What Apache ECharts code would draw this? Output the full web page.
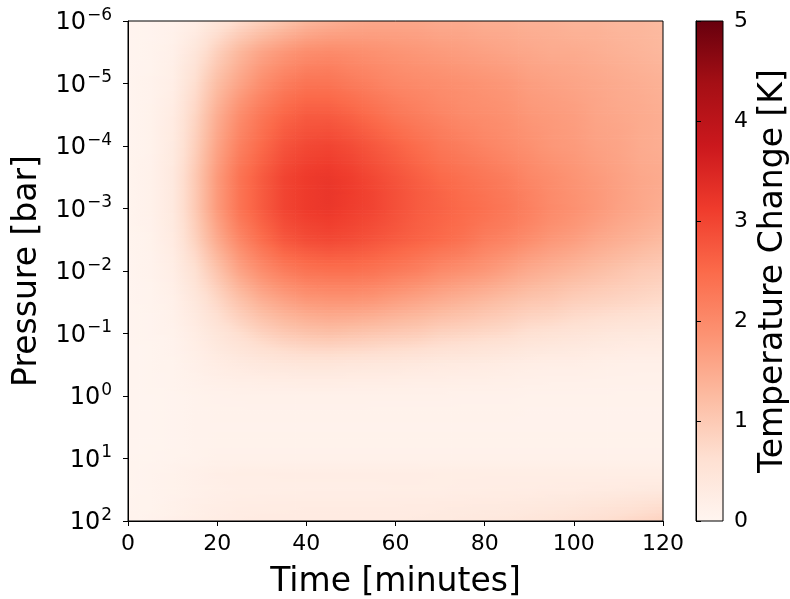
<!DOCTYPE html>
<html>
<head>
<meta charset="utf-8">
<script src="https://cdn.jsdelivr.net/npm/echarts@6/dist/echarts.min.js"></script>
<style>
html,body{margin:0;padding:0;background:#fff;}
#chart{width:790px;height:599px;}
</style>
</head>
<body>
<div id="chart"></div>
<script>
// Time axis (minutes) — cell centres
const times = [0,5,10,15,20,25,30,35,40,45,50,55,60,65,70,75,80,85,90,95,100,105,110,115,120];
// Pressure levels as log10(p [bar]) — cell centres, top to bottom
const pressureExponents = [-6,-5.75,-5.5,-5.25,-5,-4.75,-4.5,-4.25,-4,-3.75,-3.5,-3.25,-3,-2.75,-2.5,-2.25,-2,-1.75,-1.5,-1.25,-1,-0.75,-0.5,-0.25,0,0.25,0.5,0.75,1,1.25,1.5,1.75,2];
// Temperature change [K], one row per pressure level, one value per time
const row_m600 = [0.02,0.05,0.10,0.20,0.45,0.70,0.90,1.10,1.30,1.40,1.50,1.55,1.55,1.55,1.50,1.50,1.45,1.45,1.40,1.40,1.35,1.35,1.30,1.30,1.25];
const row_m575 = [0.02,0.05,0.12,0.32,0.68,1.00,1.25,1.45,1.62,1.70,1.72,1.72,1.70,1.68,1.62,1.60,1.55,1.52,1.48,1.45,1.42,1.40,1.35,1.32,1.28];
const row_m550 = [0.02,0.06,0.15,0.45,0.90,1.30,1.60,1.80,1.95,2.00,1.95,1.90,1.85,1.80,1.75,1.70,1.65,1.60,1.55,1.50,1.50,1.45,1.40,1.35,1.30];
const row_m525 = [0.03,0.07,0.18,0.55,1.05,1.45,1.78,2.00,2.15,2.18,2.10,2.02,1.95,1.90,1.85,1.80,1.75,1.70,1.62,1.58,1.55,1.50,1.45,1.40,1.35];
const row_m500 = [0.03,0.08,0.20,0.65,1.20,1.60,1.95,2.20,2.35,2.35,2.25,2.15,2.05,2.00,1.95,1.90,1.85,1.80,1.70,1.65,1.60,1.55,1.50,1.45,1.40];
const row_m475 = [0.03,0.09,0.24,0.72,1.32,1.78,2.12,2.38,2.52,2.52,2.42,2.30,2.18,2.10,2.02,1.95,1.90,1.85,1.75,1.70,1.65,1.58,1.52,1.48,1.42];
const row_m450 = [0.03,0.10,0.28,0.80,1.45,1.95,2.30,2.55,2.70,2.70,2.60,2.45,2.30,2.20,2.10,2.00,1.95,1.90,1.80,1.75,1.70,1.60,1.55,1.50,1.45];
const row_m425 = [0.03,0.10,0.30,0.85,1.52,2.05,2.40,2.68,2.82,2.85,2.75,2.60,2.45,2.32,2.20,2.10,2.02,1.95,1.85,1.78,1.72,1.62,1.58,1.50,1.45];
const row_m400 = [0.03,0.10,0.32,0.90,1.60,2.15,2.50,2.80,2.95,3.00,2.90,2.75,2.60,2.45,2.30,2.20,2.10,2.00,1.90,1.80,1.75,1.65,1.60,1.50,1.45];
const row_m375 = [0.04,0.11,0.34,0.95,1.68,2.25,2.60,2.90,3.05,3.10,3.00,2.85,2.70,2.55,2.40,2.30,2.20,2.10,1.98,1.88,1.80,1.70,1.62,1.52,1.48];
const row_m350 = [0.04,0.12,0.35,1.00,1.75,2.35,2.70,3.00,3.15,3.20,3.10,2.95,2.80,2.65,2.50,2.40,2.30,2.20,2.05,1.95,1.85,1.75,1.65,1.55,1.50];
const row_m325 = [0.04,0.12,0.35,1.00,1.75,2.35,2.70,3.00,3.15,3.22,3.12,3.00,2.85,2.70,2.58,2.46,2.36,2.26,2.12,1.98,1.88,1.78,1.66,1.56,1.48];
const row_m300 = [0.04,0.12,0.35,1.00,1.75,2.35,2.70,3.00,3.15,3.20,3.10,3.00,2.85,2.70,2.60,2.50,2.40,2.30,2.15,2.00,1.90,1.78,1.65,1.55,1.45];
const row_m275 = [0.04,0.11,0.33,0.92,1.62,2.20,2.58,2.88,3.02,3.08,3.00,2.90,2.78,2.65,2.55,2.45,2.32,2.22,2.08,1.92,1.82,1.68,1.55,1.45,1.35];
const row_m250 = [0.04,0.10,0.30,0.85,1.50,2.05,2.45,2.75,2.90,2.95,2.90,2.80,2.70,2.60,2.50,2.38,2.20,2.10,1.95,1.80,1.70,1.55,1.45,1.35,1.25];
const row_m225 = [0.03,0.09,0.26,0.72,1.30,1.82,2.20,2.48,2.62,2.68,2.65,2.58,2.48,2.38,2.25,2.15,2.00,1.88,1.72,1.60,1.50,1.38,1.28,1.18,1.10];
const row_m200 = [0.03,0.08,0.22,0.60,1.10,1.60,1.95,2.20,2.35,2.40,2.40,2.35,2.25,2.15,2.00,1.90,1.80,1.65,1.50,1.40,1.30,1.20,1.10,1.00,0.95];
const row_m175 = [0.03,0.07,0.18,0.50,0.92,1.35,1.68,1.90,2.05,2.10,2.10,2.05,1.95,1.85,1.72,1.62,1.52,1.40,1.28,1.20,1.10,1.02,0.95,0.88,0.82];
const row_m150 = [0.03,0.06,0.15,0.40,0.75,1.10,1.40,1.60,1.75,1.80,1.80,1.75,1.65,1.55,1.45,1.35,1.25,1.15,1.05,1.00,0.90,0.85,0.80,0.75,0.70];
const row_m125 = [0.02,0.05,0.12,0.32,0.60,0.88,1.12,1.30,1.42,1.48,1.45,1.40,1.32,1.25,1.15,1.08,1.00,0.92,0.82,0.78,0.70,0.65,0.60,0.56,0.52];
const row_m100 = [0.02,0.05,0.10,0.25,0.45,0.65,0.85,1.00,1.10,1.15,1.10,1.05,1.00,0.95,0.85,0.80,0.75,0.70,0.60,0.55,0.50,0.45,0.40,0.38,0.35];
const row_m075 = [0.02,0.04,0.08,0.20,0.35,0.48,0.60,0.70,0.76,0.78,0.75,0.72,0.68,0.64,0.58,0.54,0.50,0.46,0.40,0.36,0.34,0.30,0.27,0.25,0.24];
const row_m050 = [0.02,0.04,0.07,0.15,0.25,0.32,0.38,0.42,0.45,0.45,0.42,0.40,0.38,0.35,0.32,0.30,0.28,0.25,0.22,0.20,0.20,0.18,0.16,0.15,0.15];
const row_m025 = [0.02,0.04,0.06,0.12,0.17,0.20,0.22,0.24,0.25,0.25,0.24,0.23,0.22,0.21,0.20,0.19,0.18,0.17,0.15,0.14,0.14,0.13,0.12,0.12,0.12];
const row_p000 = [0.02,0.03,0.05,0.09,0.11,0.12,0.13,0.13,0.13,0.13,0.13,0.12,0.12,0.12,0.12,0.11,0.11,0.11,0.10,0.10,0.10,0.10,0.10,0.10,0.10];
const row_p025 = [0.02,0.03,0.05,0.08,0.10,0.10,0.10,0.10,0.10,0.10,0.10,0.10,0.10,0.10,0.10,0.10,0.10,0.10,0.09,0.09,0.09,0.09,0.09,0.09,0.09];
const row_p050 = [0.02,0.03,0.05,0.08,0.09,0.09,0.09,0.09,0.09,0.09,0.09,0.09,0.09,0.09,0.09,0.09,0.09,0.09,0.09,0.09,0.09,0.09,0.09,0.09,0.09];
const row_p075 = [0.02,0.03,0.05,0.08,0.10,0.10,0.10,0.10,0.10,0.10,0.10,0.10,0.10,0.10,0.10,0.10,0.10,0.10,0.10,0.10,0.10,0.10,0.10,0.10,0.10];
const row_p100 = [0.03,0.04,0.06,0.09,0.12,0.12,0.12,0.12,0.12,0.12,0.12,0.12,0.12,0.12,0.12,0.12,0.12,0.12,0.12,0.12,0.12,0.12,0.12,0.12,0.12];
const row_p125 = [0.04,0.06,0.10,0.15,0.20,0.22,0.22,0.23,0.23,0.23,0.23,0.23,0.23,0.23,0.22,0.22,0.22,0.22,0.22,0.22,0.22,0.22,0.22,0.22,0.22];
const row_p150 = [0.04,0.06,0.10,0.14,0.18,0.20,0.20,0.21,0.21,0.21,0.21,0.21,0.22,0.22,0.22,0.23,0.24,0.25,0.26,0.27,0.28,0.30,0.32,0.34,0.36];
const row_p175 = [0.05,0.07,0.12,0.18,0.22,0.25,0.26,0.27,0.28,0.28,0.28,0.28,0.28,0.29,0.30,0.31,0.32,0.33,0.36,0.38,0.42,0.46,0.52,0.58,0.65];
const row_p200 = [0.06,0.08,0.14,0.20,0.25,0.28,0.30,0.30,0.30,0.30,0.30,0.30,0.30,0.32,0.34,0.36,0.38,0.40,0.45,0.50,0.56,0.62,0.70,0.78,0.85];

const temperatureRows = [row_m600,row_m575,row_m550,row_m525,row_m500,row_m475,row_m450,row_m425,row_m400,row_m375,row_m350,row_m325,row_m300,row_m275,row_m250,row_m225,row_m200,row_m175,row_m150,row_m125,row_m100,row_m075,row_m050,row_m025,row_p000,row_p025,row_p050,row_p075,row_p100,row_p125,row_p150,row_p175,row_p200];

// Tick labels
const xTicks = [0,20,40,60,80,100,120];
const yTickExponents = [-6,-5,-4,-3,-2,-1,0,1,2];
const colorbarTicks = [0,1,2,3,4,5];

// Colormap (matplotlib "Reds") and colour range
const redsColors = ['#fff5f0','#fee0d2','#fcbba1','#fc9272','#fb6a4a','#ef3b2c','#cb181d','#a50f15','#67000d'];
const vMin = 0, vMax = 5;

const timeStep = 5, expStep = 0.25, STRIPS = 5;
const nRows = pressureExponents.length, nCols = times.length;

const cells = [];
pressureExponents.forEach((e, i) => {
  times.forEach((t, j) => {
    cells.push([t, Math.pow(10, e), temperatureRows[i][j], i, j]);
  });
});

const rgbStops = redsColors.map(c => [parseInt(c.slice(1,3),16), parseInt(c.slice(3,5),16), parseInt(c.slice(5,7),16)]);
function colorOf(v) {
  let f = (v - vMin) / (vMax - vMin);
  f = Math.max(0, Math.min(1, f)) * (rgbStops.length - 1);
  const k = Math.min(Math.floor(f), rgbStops.length - 2);
  const r = f - k, a = rgbStops[k], b = rgbStops[k + 1];
  return 'rgb(' + Math.round(a[0] + (b[0]-a[0])*r) + ',' + Math.round(a[1] + (b[1]-a[1])*r) + ',' + Math.round(a[2] + (b[2]-a[2])*r) + ')';
}
function V(i, j) {
  i = Math.max(0, Math.min(nRows - 1, i));
  j = Math.max(0, Math.min(nCols - 1, j));
  return temperatureRows[i][j];
}

const FONT = 'DejaVu Sans';
const chart = echarts.init(document.getElementById('chart'), null, {renderer: 'canvas'});

function supMinus(n){ return (n < 0 ? '\u2212' : '') + Math.abs(n); }

chart.setOption({
  backgroundColor: '#ffffff',
  animation: false,
  grid: [
    {left: 128, top: 21, width: 535, height: 500, show: true, borderColor: '#000', borderWidth: 1,
     backgroundColor: 'transparent', z: 10, containLabel: false, outerBoundsMode: 'none'},
    {left: 696, top: 21, width: 27, height: 500, show: true, borderColor: '#000', borderWidth: 1,
     backgroundColor: 'transparent', z: 10, containLabel: false, outerBoundsMode: 'none'}
  ],
  xAxis: [
    {
      type: 'value', gridIndex: 0, min: 0, max: 120, interval: 20, z: 10,
      name: 'Time [minutes]', nameLocation: 'middle', nameGap: 45,
      nameTextStyle: {fontFamily: FONT, fontSize: 33, color: '#000'},
      axisLine: {show: true, lineStyle: {color: '#000', width: 1}},
      axisTick: {show: true, inside: false, length: 5, lineStyle: {color: '#000'}},
      axisLabel: {fontFamily: FONT, fontSize: 22, color: '#000', margin: 12,
        formatter: v => xTicks.indexOf(v) >= 0 ? String(v) : ''},
      splitLine: {show: false}
    },
    {type: 'value', gridIndex: 1, min: 0, max: 1, show: false}
  ],
  yAxis: [
    {
      type: 'log', gridIndex: 0, logBase: 10, min: 1e-6, max: 1e2, interval: 1, inverse: true, z: 10,
      name: 'Pressure [bar]', nameLocation: 'middle', nameGap: 84, nameRotate: 90,
      nameTextStyle: {fontFamily: FONT, fontSize: 33, color: '#000'},
      axisLine: {show: true, lineStyle: {color: '#000', width: 1}},
      axisTick: {show: true, inside: false, length: 5, lineStyle: {color: '#000'}},
      minorTick: {show: false},
      splitLine: {show: false},
      axisLabel: {
        margin: 16,
        formatter: function (v) {
          const e = Math.round(Math.log10(v));
          if (yTickExponents.indexOf(e) < 0) return '';
          return '{b|10}{s|' + supMinus(e) + '}';
        },
        rich: {
          b: {fontFamily: FONT, fontSize: 24, color: '#000', lineHeight: 28, verticalAlign: 'bottom'},
          s: {fontFamily: FONT, fontSize: 17, color: '#000', lineHeight: 28, verticalAlign: 'top', padding: [0,0,9,1]}
        }
      }
    },
    {
      type: 'value', gridIndex: 1, min: 0, max: 5, interval: 1, position: 'right', z: 10,
      name: 'Temperature Change [K]', nameLocation: 'middle', nameGap: 34, nameRotate: 90,
      nameTextStyle: {fontFamily: FONT, fontSize: 33, color: '#000'},
      axisLine: {show: true, lineStyle: {color: '#000', width: 1}},
      axisTick: {show: true, inside: false, length: 5, lineStyle: {color: '#000'}},
      axisLabel: {fontFamily: FONT, fontSize: 22, color: '#000', margin: 11,
        formatter: v => colorbarTicks.indexOf(v) >= 0 ? String(v) : ''},
      splitLine: {show: false}
    }
  ],
  series: [
    {
      type: 'custom', xAxisIndex: 0, yAxisIndex: 0, z: 1, clip: true,
      encode: {x: 0, y: 1},
      data: cells,
      renderItem: function (params, api) {
        const t = api.value(0);
        const i = api.value(3), j = api.value(4);
        const e = pressureExponents[i];
        const xl = api.coord([t - timeStep / 2, Math.pow(10, e)])[0];
        const xr = api.coord([t + timeStep / 2, Math.pow(10, e)])[0];
        const xa = api.coord([Math.max(t - timeStep / 2, 0), Math.pow(10, e)])[0];
        const xb = api.coord([Math.min(t + timeStep / 2, 120), Math.pow(10, e)])[0];
        const children = [];
        for (let k = 0; k < STRIPS; k++) {
          const f = (k + 0.5) / STRIPS - 0.5;          // -0.4 .. 0.4 of a row step
          const nb = f < 0 ? i - 1 : i + 1;
          const w = Math.abs(f);
          const mix = jj => (1 - w) * V(i, jj) + w * V(nb, jj);
          const vc = mix(j), vl = (mix(j - 1) + vc) / 2, vr = (mix(j + 1) + vc) / 2;
          const e0 = Math.max(e + (k / STRIPS - 0.5) * expStep, -6);
          const e1 = Math.min(e + ((k + 1) / STRIPS - 0.5) * expStep, 2);
          if (e1 <= e0) continue;
          const y0 = api.coord([t, Math.pow(10, e0)])[1];
          const y1 = api.coord([t, Math.pow(10, e1)])[1];
          children.push({
            type: 'rect',
            shape: {x: xa, y: Math.min(y0, y1), width: xb - xa + 0.7, height: Math.abs(y1 - y0) + 0.7},
            style: {fill: new echarts.graphic.LinearGradient(xl, 0, xr, 0, [
              {offset: 0, color: colorOf(vl)},
              {offset: 0.5, color: colorOf(vc)},
              {offset: 1, color: colorOf(vr)}
            ], true)}
          });
        }
        return {type: 'group', children: children};
      }
    },
    {
      type: 'custom', xAxisIndex: 1, yAxisIndex: 1, z: 1,
      data: [[0, vMin, 1, vMax]],
      renderItem: function (params, api) {
        const a = api.coord([api.value(0), api.value(1)]);
        const b = api.coord([api.value(2), api.value(3)]);
        return {
          type: 'rect',
          shape: {x: a[0], y: b[1], width: b[0] - a[0], height: a[1] - b[1]},
          style: {fill: new echarts.graphic.LinearGradient(0, 1, 0, 0,
            redsColors.map((c, idx) => ({offset: idx / (redsColors.length - 1), color: c})))}
        };
      }
    }
  ]
});
</script>
</body>
</html>
